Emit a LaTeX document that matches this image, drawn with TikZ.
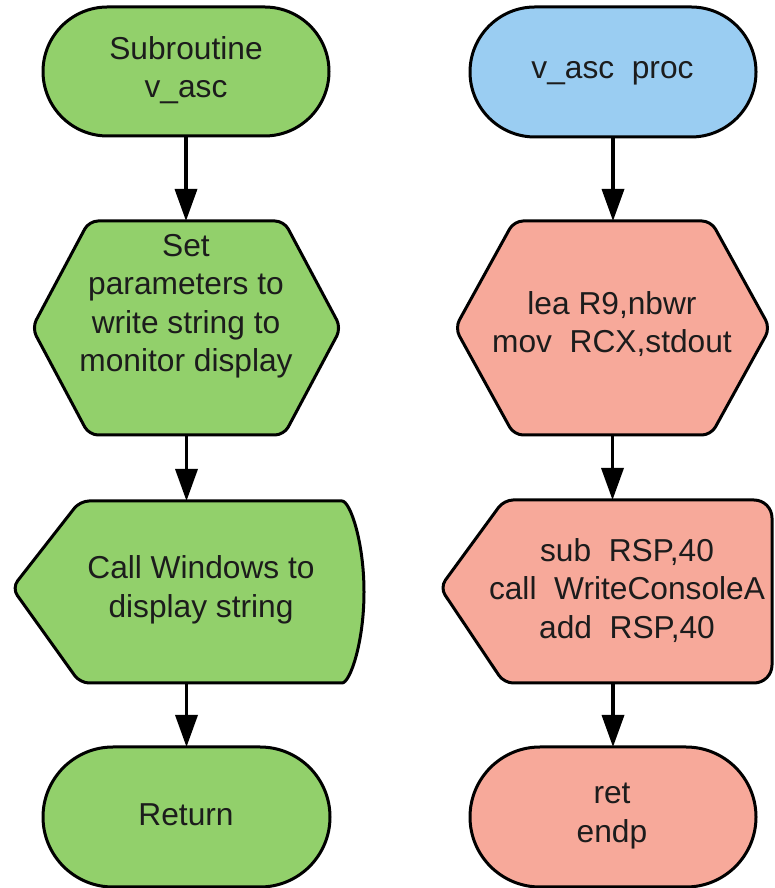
\documentclass[tikz,border=0pt]{standalone}
\usepackage{fontspec}
\setmainfont{Liberation Sans}
\usetikzlibrary{arrows.meta}

\definecolor{termgreen}{HTML}{92D06B}
\definecolor{procblue}{HTML}{9ACDF2}
\definecolor{codesalmon}{HTML}{F7A99A}
\definecolor{inkdark}{HTML}{1C1C1C}

\begin{document}
\begin{tikzpicture}[x=1pt,y=1pt,
  outline/.style={draw=black, line width=3pt, line join=round},
  frame/.style n args={2}{minimum width=#1, minimum height=#2, inner sep=0pt, outer sep=0pt},
  txt/.style={font=\fontsize{31.7}{38.5}\selectfont, text=inkdark, align=center, inner sep=0pt},
  flow/.style={line width=3.5pt, -{Triangle[width=22pt,length=32pt]}}
]
\useasboundingbox (0,0) rectangle (774,888);

% ---- frames of the flowchart blocks ----
\node[frame={286pt}{129pt}] (start)   at (186,816.5) {};
\node[frame={309pt}{214pt}] (setpar)  at (186.5,560) {};
\node[frame={352pt}{182pt}] (callwin) at (188,296) {};
\node[frame={287pt}{140pt}] (ret)     at (186.5,71) {};

\node[frame={286pt}{130pt}] (proc)    at (613,816) {};
\node[frame={315pt}{214pt}] (setreg)  at (612.5,560) {};
\node[frame={332pt}{183pt}] (callapi) at (606,296.5) {};
\node[frame={286pt}{140pt}] (endp)    at (613,71) {};

% ---- left column outlines ----
\draw[outline, fill=termgreen, rounded corners=64.5pt]
  (start.south west) rectangle (start.north east);
\draw[outline, fill=termgreen, rounded corners=9pt]
  (setpar.north) -- ([xshift=-57pt]setpar.north east) -- (setpar.east)
  -- ([xshift=-57pt]setpar.south east) -- ([xshift=57pt]setpar.south west)
  -- (setpar.west) -- ([xshift=57pt]setpar.north west) -- cycle;
\draw[outline, fill=termgreen, rounded corners=9pt]
  (callwin.north) -- ([xshift=-31pt]callwin.north east)
  arc[start angle=90, end angle=-90, x radius=31pt, y radius=91pt]
  -- ([xshift=68pt]callwin.south west) -- ([yshift=4pt]callwin.west)
  -- ([xshift=68pt]callwin.north west) -- cycle;
\draw[outline, fill=termgreen, rounded corners=70pt]
  (ret.south west) rectangle (ret.north east);

% ---- right column outlines ----
\draw[outline, fill=procblue, rounded corners=65pt]
  (proc.south west) rectangle (proc.north east);
\draw[outline, fill=codesalmon, rounded corners=9pt]
  (setreg.north) -- ([xshift=-59pt]setreg.north east) -- (setreg.east)
  -- ([xshift=-59pt]setreg.south east) -- ([xshift=59pt]setreg.south west)
  -- (setreg.west) -- ([xshift=59pt]setreg.north west) -- cycle;
\draw[outline, fill=codesalmon, rounded corners=18pt]
  (callapi.north) -- (callapi.north east) -- (callapi.south east)
  [rounded corners=9pt]
  -- ([xshift=64pt]callapi.south west) -- ([yshift=4pt]callapi.west)
  -- ([xshift=64pt]callapi.north west) -- cycle;
\draw[outline, fill=codesalmon, rounded corners=70pt]
  (endp.south west) rectangle (endp.north east);

% ---- texts ----
\node[txt] (t-start)   at (186,818)   {Subroutine\\v\_asc};
\node[txt] (t-setpar)  at (186,582)   {Set\\parameters to\\write string to\\monitor display};
\node[txt] (t-callwin) at (201,298)   {Call Windows to\\display string};
\node[txt] (t-ret)     at (186,73)    {Return};

\node[txt] (t-proc)    at (612.5,815) {v\_asc\ \ proc};
\node[txt] (t-setreg)  at (612,564)   {lea R9,nbwr\\mov\ \ RCX,stdout};
\node[txt] (t-callapi) at (627,297.5) {sub\ \ RSP,40\\call\ \ WriteConsoleA\\add\ \ RSP,40};
\node[txt] (t-endp)    at (612,72)    {ret\\endp};

% ---- connectors ----
\draw[flow] (start.south) -- (start.south |- setpar.north);
\draw[flow] (setpar.south) -- (setpar.south |- callwin.north);
\draw[flow] (ret.north |- callwin.south) -- (ret.north);

\draw[flow] (proc.south) -- (proc.south |- setreg.north);
\draw[flow] (setreg.south) -- (setreg.south |- callapi.north);
\draw[flow] (endp.north |- callapi.south) -- (endp.north);
\end{tikzpicture}
\end{document}
